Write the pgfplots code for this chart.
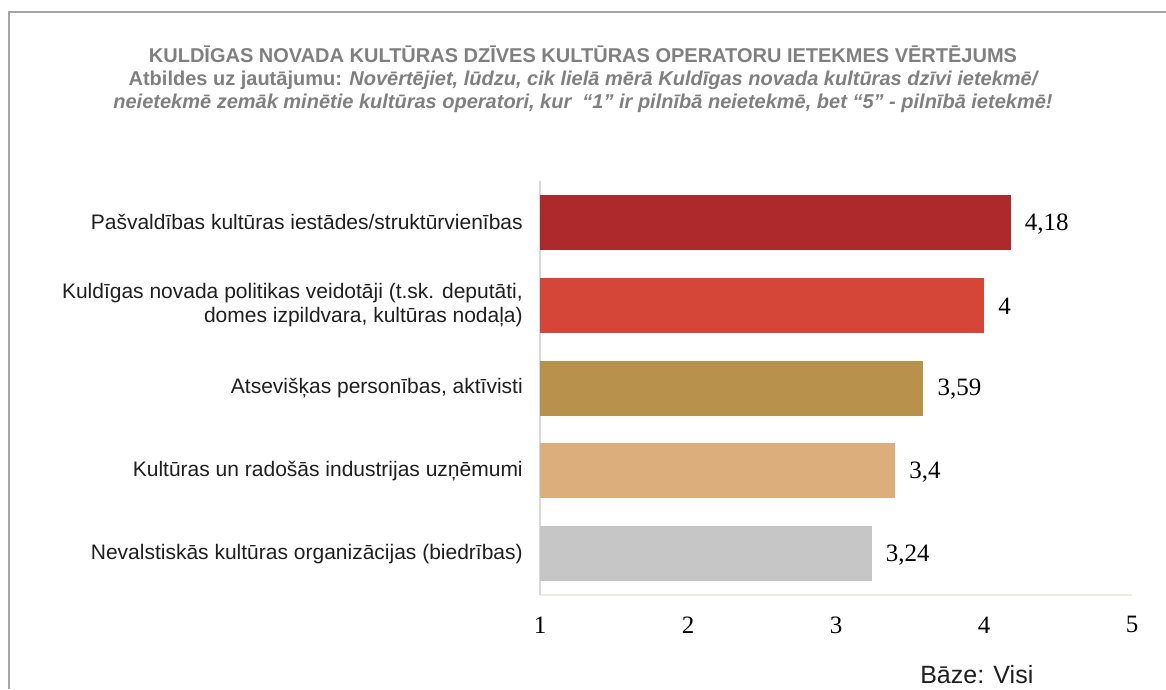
\documentclass[border=0pt]{standalone}
\usepackage{fontspec}
\setmainfont{Liberation Sans}
\newfontfamily\timesfont{Liberation Serif}
\usepackage{pgfplots}
\pgfplotsset{compat=1.18}
\definecolor{c1}{HTML}{AE292C}
\definecolor{c2}{HTML}{D54638}
\definecolor{c3}{HTML}{B8924D}
\definecolor{c4}{HTML}{DBAE7B}
\definecolor{c5}{HTML}{C6C6C6}
\definecolor{titlegray}{HTML}{808080}
\definecolor{framegray}{HTML}{A6A6A6}
\definecolor{labelcol}{HTML}{1F1F1F}
\definecolor{yline}{HTML}{D9D9D9}
\definecolor{xline}{HTML}{EEECE1}
\begin{document}
\begin{tikzpicture}[x=0.75pt,y=0.75pt]
\useasboundingbox (0,0) rectangle (1166,689);
\draw[line width=1.5pt, framegray] (8.5,0) -- (8.5,677) -- (1166,677);
\node[anchor=base, font=\fontsize{15}{18}\selectfont\bfseries, text=titlegray, inner sep=0pt] at (583,626) {KULDĪGAS NOVADA KULTŪRAS DZĪVES KULTŪRAS OPERATORU IETEKMES VĒRTĒJUMS};
\node[anchor=base, font=\fontsize{15}{18}\selectfont\bfseries, text=titlegray, inner sep=0pt] at (583,603) {Atbildes uz jautājumu: \itshape Novērtējiet, lūdzu, cik lielā mērā Kuldīgas novada kultūras dzīvi ietekmē/};
\node[anchor=base, font=\fontsize{15}{18}\selectfont\bfseries\itshape, text=titlegray, inner sep=0pt] at (583,580) {neietekmē zemāk minētie kultūras operatori, kur \ “1” ir pilnībā neietekmē, bet “5” - pilnībā ietekmē!};
\node[anchor=base west, font=\fontsize{18.75}{20}\selectfont, text=labelcol, inner sep=0pt] at (920,6) {Bāze: Visi};
\begin{axis}[
  at={(405pt,70.5pt)}, anchor=south west,
  scale only axis, width=444pt, height=310.5pt,
  xmin=1, xmax=5, ymin=0.5, ymax=5.5,
  y dir=reverse,
  xbar, bar width=41.25pt, bar shift=0pt,
  axis x line*=bottom, axis y line*=left,
  x axis line style={draw=xline, line width=1.5pt, -},
  y axis line style={draw=yline, line width=1.5pt, -},
  major tick length=0pt,
  xtick={1,2,3,4,5},
  ytick={1,2,3,4,5},
  yticklabels={{Pašvaldības kultūras iestādes/struktūrvienības},{Kuldīgas novada politikas veidotāji (t.sk. deputāti,\\domes izpildvara, kultūras nodaļa)},{Atsevišķas personības, aktīvisti},{Kultūras un radošās industrijas uzņēmumi},{Nevalstiskās kultūras organizācijas (biedrības)}},
  yticklabel style={align=right, font=\fontsize{15.75}{18}\selectfont, text=labelcol, inner sep=0pt, xshift=-12.75pt},
  xticklabel style={font=\timesfont\fontsize{18.75}{20}\selectfont, inner sep=0pt, yshift=-16pt},
  /pgf/number format/.cd, use comma, assume math mode=true,
  /pgfplots/.cd,
  nodes near coords,
  point meta=x,
  every node near coord/.append style={font=\timesfont\fontsize{18.75}{20}\selectfont, text=black, anchor=west, inner sep=0pt, xshift=10.5pt, yshift=-1pt},
]
\addplot[fill=c1, draw=none] coordinates {(4.18,1)};
\addplot[fill=c2, draw=none] coordinates {(4,2)};
\addplot[fill=c3, draw=none] coordinates {(3.59,3)};
\addplot[fill=c4, draw=none] coordinates {(3.4,4)};
\addplot[fill=c5, draw=none] coordinates {(3.24,5)};
\end{axis}
\end{tikzpicture}
\end{document}
